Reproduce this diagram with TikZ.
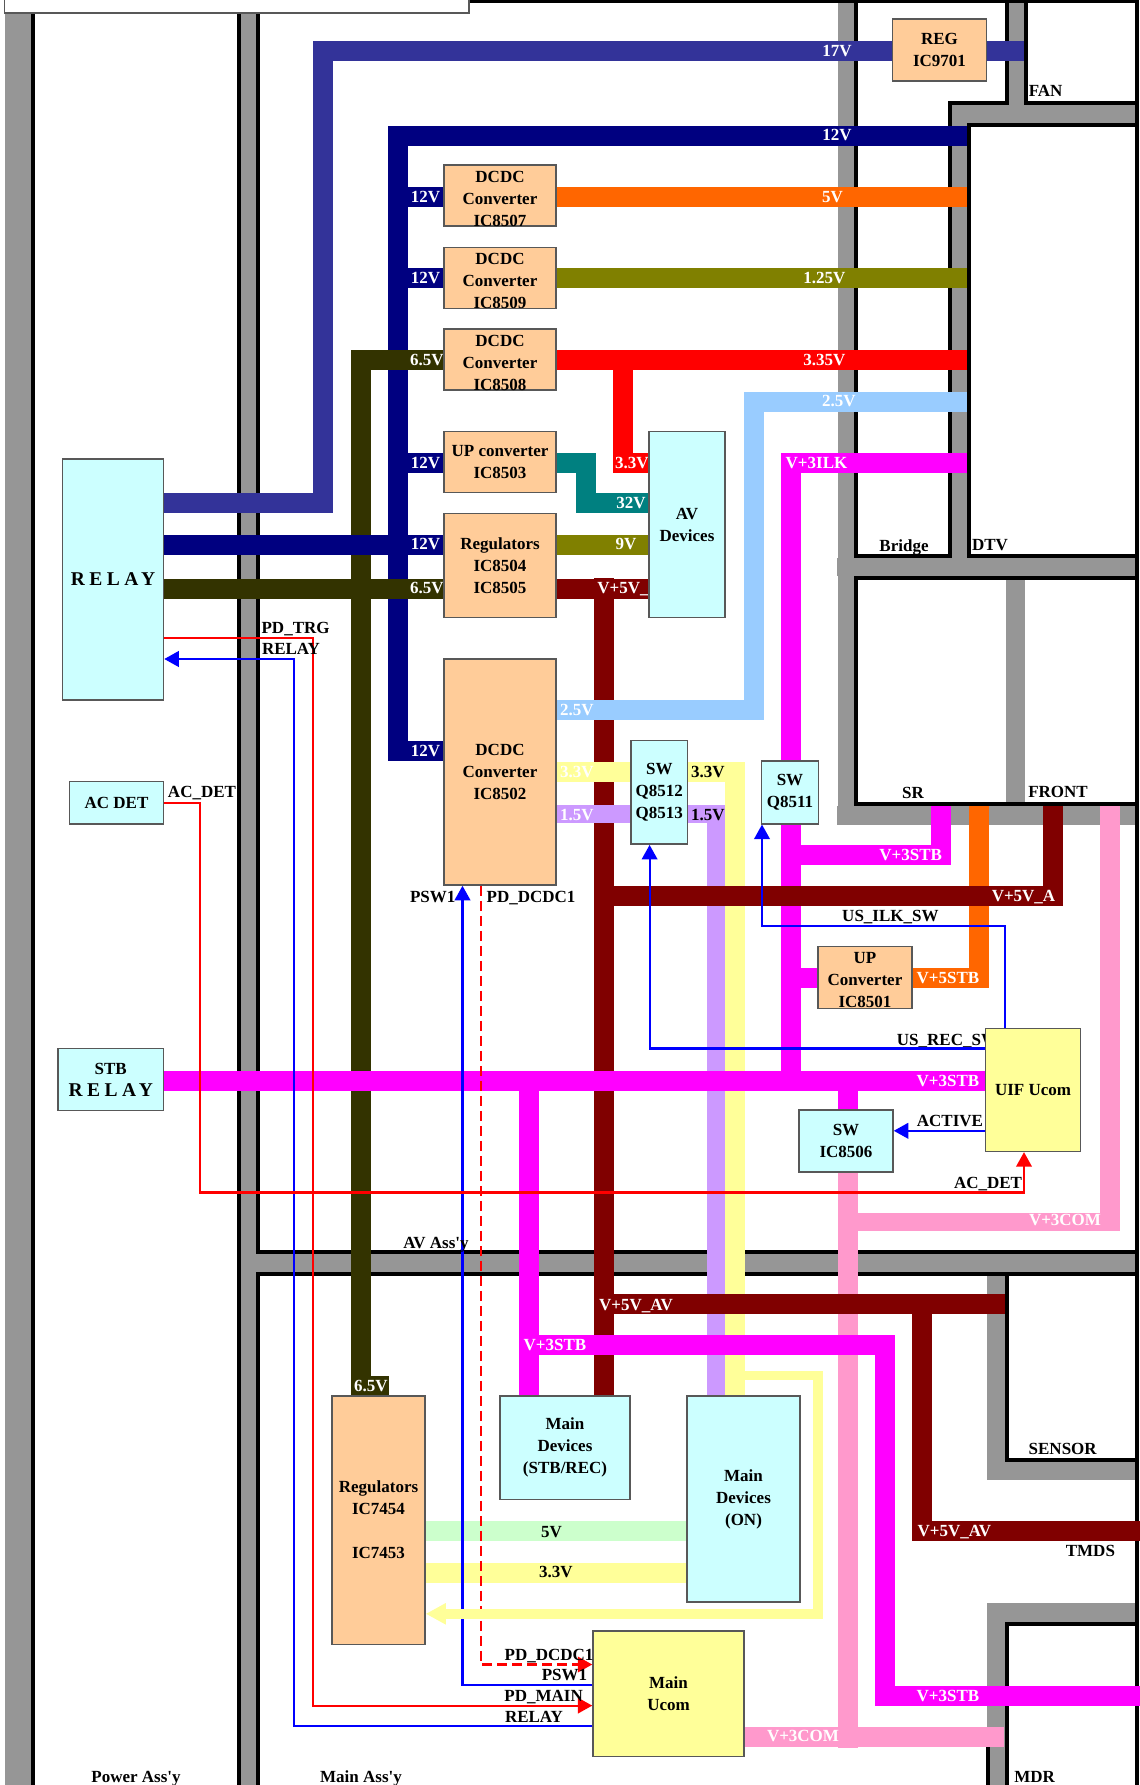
\documentclass[tikz,border=0pt]{standalone}
\usepackage{fontspec}
\usepackage{tikz}
\usetikzlibrary{arrows.meta}
\newfontfamily\diagfont{Liberation Serif}
\newfontfamily\spacedfont[LetterSpace=23]{Liberation Serif}
\newcommand{\lblfont}{\diagfont\fontsize{17}{22}\selectfont\bfseries}
\newcommand{\relayfont}{\spacedfont\fontsize{19.5}{22}\selectfont\bfseries}
\definecolor{wallgray}{HTML}{969696}
\definecolor{busA}{HTML}{333399}
\definecolor{busB}{HTML}{000080}
\definecolor{busC}{HTML}{333300}
\definecolor{busD}{HTML}{FF6600}
\definecolor{busE}{HTML}{808000}
\definecolor{busF}{HTML}{FF0000}
\definecolor{busG}{HTML}{99CCFF}
\definecolor{busH}{HTML}{FF00FF}
\definecolor{busI}{HTML}{008080}
\definecolor{busJ}{HTML}{800000}
\definecolor{busK}{HTML}{FFFF99}
\definecolor{busL}{HTML}{CC99FF}
\definecolor{busM}{HTML}{FF99CC}
\definecolor{busN}{HTML}{CCFFCC}
\definecolor{peach}{HTML}{FFCC99}
\definecolor{pale}{HTML}{CCFFFF}
\definecolor{edgegray}{HTML}{585858}
\pgfdeclarelayer{busses}
\pgfsetlayers{busses,main}
\tikzset{
  wall/.style={line width=4pt,black},
  bus/.style={line width=20pt},
  sigred/.style={line width=2.2pt,red},
  sigblue/.style={line width=2.2pt,blue},
  boxsize/.style 2 args={minimum width=#1pt,minimum height=#2pt},
  unit/.style={draw=edgegray,line width=1.5pt,inner sep=0pt,align=center,font=\lblfont},
  peachbox/.style={unit,fill=peach},
  palebox/.style={unit,fill=pale},
  ylwbox/.style={unit,fill=busK},
  boxtext/.style={inner sep=0pt,align=center,font=\lblfont},
  tag/.style={inner sep=0pt,text height=11.5pt,text depth=0pt,font=\lblfont},
  wtag/.style={tag,white}
}
\begin{document}
\begin{tikzpicture}[>={Triangle[length=14.5pt,width=15.5pt]},x=1pt,y=-1pt]
  \useasboundingbox (0,0) rectangle (1140,1785);
  % Units on the left and in the AV panel
  \node[palebox,boxsize={101}{241}] (relay) at (113,579.5) {{\relayfont RELAY}};
  \node[palebox,boxsize={94}{42.5}] (acdet) at (116.5,802.6) {AC DET};
  \node[palebox,boxsize={105.5}{62}] (stbrelay) at (110.75,1079.5) {STB\\{\relayfont RELAY}};
  \node[peachbox,boxsize={94}{62}] (regfan) at (939.5,50.1) {REG\\IC9701};
  \foreach \nm/\yc/\ic in {dcdcA/195.7/IC8507,dcdcB/277.8/IC8509,dcdcC/359.4/IC8508}{
    \node[peachbox,boxsize={112}{61}] (\nm) at (500,\yc) {};
    \node[boxtext] (\nm text) at (500,\yc+3.5) {DCDC\\Converter\\\ic};
  }
  \node[peachbox,boxsize={112}{61}] (upav) at (500,462) {UP converter\\IC8503};
  \node[peachbox,boxsize={112}{104}] (regav) at (500,565.5) {Regulators\\IC8504\\IC8505};
  \node[peachbox,boxsize={112}{226}] (dcdcmain) at (500,772) {DCDC\\Converter\\IC8502};
  \node[palebox,boxsize={76}{186}] (avdev) at (687,524.5) {AV\\Devices};
  \node[palebox,boxsize={56.6}{103.7}] (swrec) at (659.3,792.3) {SW\\Q8512\\Q8513};
  \node[palebox,boxsize={57}{63}] (swilk) at (790,792.3) {SW\\Q8511};
  \node[peachbox,boxsize={94}{62}] (upstb) at (865,977.3) {};
  \node[boxtext] (upstbtext) at (865,980.4) {UP\\Converter\\IC8501};
  \node[palebox,boxsize={94}{62}] (swcom) at (846,1141) {SW\\IC8506};
  \node[ylwbox,boxsize={95}{122.8}] (uif) at (1033,1090) {UIF Ucom};
  % Units in the main panel
  \node[peachbox,boxsize={93}{248.5}] (regmain) at (378.5,1520) {Regulators\\IC7454\\[22pt]IC7453};
  \node[palebox,boxsize={130}{103.7}] (devstb) at (565,1447.8) {Main\\Devices\\(STB/REC)};
  \node[palebox,boxsize={113}{206.3}] (devon) at (743.5,1499) {Main\\Devices\\(ON)};
  \node[ylwbox,boxsize={151}{125.3}] (ucom) at (668.5,1693.6) {Main\\Ucom};

  \begin{pgfonlayer}{busses}
    % Grey walls between the assemblies
    \fill[wallgray] (5,0) rectangle (31,1785);
    \fill[wallgray] (241,0) rectangle (256,1785);
    \fill[wallgray] (838,0) rectangle (854,824.6);
    \fill[wallgray] (256,1254) rectangle (1136,1272);
    \fill[wallgray] (837,558) rectangle (1136,576);
    \fill[wallgray] (837,806) rectangle (1136,824.6);
    \fill[wallgray] (1006,580) rectangle (1025,802);
    \fill[wallgray] (1008.5,0) rectangle (1023.5,105);
    \fill[wallgray] (952,105) rectangle (1136,123);
    \fill[wallgray] (952,105) rectangle (967,558);
    \fill[wallgray] (987,1276) rectangle (1005,1479.5);
    \fill[wallgray] (987,1461) rectangle (1136,1479.5);
    \fill[wallgray] (987,1603) rectangle (1136,1622);
    \fill[wallgray] (987,1603) rectangle (1005,1785);
    % Black outlines of the boards
    \draw[wall] (33,0) -- (33,1785);
    \draw[wall] (239,0) -- (239,1785);
    \draw[wall] (258,0) -- (258,1252) -- (1139,1252);
    \draw[wall] (1139,1274) -- (258,1274) -- (258,1785);
    \draw[wall] (469,1) -- (1137,1) -- (1137,1785);
    \draw[wall] (856,0) -- (856,556) -- (952,556);
    \draw[wall] (1137,804) -- (856,804) -- (856,578) -- (1137,578);
    \draw[wall] (1006.5,0) -- (1006.5,103) -- (950,103) -- (950,558);
    \draw[wall] (1025.5,0) -- (1025.5,103) -- (1137,103);
    \draw[wall] (1137,125) -- (969,125) -- (969,556) -- (1137,556);
    \draw[wall] (1006.5,1274) -- (1006.5,1459.5) -- (1137,1459.5);
    \draw[wall] (1006.5,1785) -- (1006.5,1624) -- (1137,1624);
    \draw[wall] (988,1747) -- (988,1785);
    \filldraw[fill=white,draw=edgegray,line width=1.5pt] (4.5,-3) rectangle (469,13);

    % 17V and 12V feeds
    \draw[bus,busA] (relay.east |- 0,503.4) -- (322.5,503.4) -- (322.5,51.5) -- (regfan.west |- 0,51.5);
    \draw[bus,busA] (regfan.east |- 0,51.5) -- (1023.5,51.5);
    \draw[bus,busB] (967,135.7) -- (397.5,135.7) -- (397.5,751.3) -- (dcdcmain.west |- 0,751.3);
    \foreach \yy/\nm in {196.5/dcdcA,278/dcdcB,463/upav}{
      \draw[bus,busB] (397.5,\yy) -- (\nm.west |- 0,\yy);
    }
    % 6.5V feed
    \draw[bus,busC] (dcdcC.west |- 0,360.2) -- (360.5,360.2) -- (360.5,1396);
    \draw[bus,busC] (351,1386) -- (389,1386);
    \draw[bus,busC] (relay.east |- 0,588.7) -- (regav.west |- 0,588.7);
    \draw[bus,busB] (relay.east |- 0,545) -- (regav.west |- 0,545);
    % Outputs towards DTV and the AV devices
    \draw[bus,busJ] (603.5,578) -- (603.5,1396);
    \draw[bus,busJ] (regav.east |- 0,588.7) -- (avdev.west |- 0,588.7);
    \draw[bus,busD] (dcdcA.east |- 0,196.5) -- (967,196.5);
    \draw[bus,busE] (dcdcB.east |- 0,278) -- (967,278);
    \draw[bus,busF] (dcdcC.east |- 0,360.2) -- (967,360.2);
    \draw[bus,busF] (622.5,360.2) -- (622.5,463) -- (avdev.west |- 0,463);
    \draw[bus,busI] (upav.east |- 0,463) -- (585.5,463) -- (585.5,503.4) -- (avdev.west |- 0,503.4);
    \draw[bus,busE] (regav.east |- 0,545) -- (avdev.west |- 0,545);
    \draw[bus,busG] (dcdcmain.east |- 0,710.2) -- (753.5,710.2) -- (753.5,401.6) -- (967,401.6);
    % 1.5V and 3.3V through the switch
    \draw[line width=18pt,busL] (dcdcmain.east |- 0,814.3) -- (716,814.3) -- (716,1396);
    \draw[bus,busK] (dcdcmain.east |- 0,772.4) -- (734.5,772.4) -- (734.5,1396);
    % V+3COM
    \draw[bus,busM] (1109.5,806) -- (1109.5,1231);
    \draw[line width=18pt,busM] (857,1222) -- (1119,1222);
    \draw[bus,busM] (847.5,1172) -- (847.5,1747.5);
    \draw[bus,busM] (ucom.east |- 0,1737.4) -- (1004,1737.4);
    % V+5STB
    \draw[bus,busD] (upstb.east |- 0,978.4) -- (979,978.4) -- (979,806);
    % Magenta standby rails
    \draw[bus,busH] (967,463) -- (790.5,463) -- (790.5,1071);
    \draw[bus,busH] (800,855.4) -- (940.5,855.4) -- (940.5,806);
    \draw[bus,busH] (800,978.4) -- (upstb.west |- 0,978.4);
    \draw[bus,busH] (stbrelay.east |- 0,1080.5) -- (uif.west |- 0,1080.5);
    \draw[bus,busH] (847.5,1080) -- (swcom.north -| 847.5,0);
    \draw[bus,busH] (528.5,1080) -- (528.5,1396);
    \draw[bus,busH] (519,1345.3) -- (884.5,1345.3) -- (884.5,1696.3) -- (1140,1696.3);
    % V+5V rails on top
    \draw[bus,busJ] (603.5,896.2) -- (1052.5,896.2) -- (1052.5,806);
    \draw[bus,busJ] (594,1304.2) -- (1004.5,1304.2);
    \draw[bus,busJ] (921.5,1304) -- (921.5,1531.4) -- (1140,1531.4);
    % Feeds in the main panel
    \draw[bus,busN] (regmain.east |- 0,1531.4) -- (devon.west |- 0,1531.4);
    \draw[bus,busK] (regmain.east |- 0,1572.6) -- (devon.west |- 0,1572.6);

    % Voltage names on the rails
    \foreach \xx/\yy/\txt [count=\i] in {837/51/17V,837/135/12V,832.5/196.3/5V,824.5/278.2/1.25V,
      824.5/360/3.35V,839/401/2.5V,816.5/462.3/V+3ILK,632/462.3/3.3V,631/503/32V,626/544/9V,
      623/587.4/V+5V\_,425.5/196.3/12V,425.5/278.2/12V,425.5/462.3/12V,425.5/544.2/12V,427/360/6.5V,
      427/587.4/6.5V,425.5/751.2/12V,577/710.2/2.5V,577/772.2/3.3V,577/814.3/1.5V,
      910.7/855.2/V+3STB,1023.5/895.8/V+5V\_A,948/978/V+5STB,948/1080.3/V+3STB,1065/1220/V+3COM,
      636/1304.5/V+5V\_AV,555/1344.8/V+3STB,371/1385.8/6.5V,954.4/1531/V+5V\_AV,948/1696.2/V+3STB,
      803/1736.2/V+3COM}{
      \node[wtag] (rail\i) at (\xx,\yy) {\txt};
    }
    \node[tag] (usrec) at (947.5,1039.3) {US\_REC\_SW};
  \end{pgfonlayer}

  % Control lines
  \draw[sigred,->] (relay.east |- 0,638.3) -- (312.7,638.3) -- (312.7,1705.6) -- (ucom.west |- 0,1705.6);
  \draw[sigblue,->] (ucom.west |- 0,1726) -- (293.8,1726) -- (293.8,659) -- (relay.east |- 0,659);
  \draw[sigblue,->] (ucom.west |- 0,1685) -- (462.5,1685) -- (dcdcmain.south -| 462.5,0);
  \draw[sigred,dash pattern=on 10pt off 5pt,->] (dcdcmain.south -| 481,0) -- (481,1664.5) -- (ucom.west |- 0,1664.5);
  \draw[sigred,->] (acdet.east |- 0,803.2) -- (200,803.2) -- (200,1192.4) -- (1024,1192.4) -- (uif.south -| 1024,0);
  \draw[sigblue,->] (uif.west |- 0,1048.5) -- (649.6,1048.5) -- (swrec.south -| 649.6,0);
  \draw[sigblue,->] (uif.north -| 1005,0) -- (1005,926) -- (762,926) -- (swilk.south -| 762,0);
  \draw[sigblue,->] (uif.west |- 0,1130.8) -- (swcom.east |- 0,1130.8);
  \draw[line width=9.5pt,busK,-{Triangle[length=20pt,width=20pt]}] (734.5,1375.5) -- (818,1375.5) -- (818,1613.8) -- (regmain.east |- 0,1613.8);

  % Names of boards and signals
  \foreach \xx/\yy/\txt [count=\i] in {1045.6/91/FAN,904/545.3/Bridge,990/545/DTV,202/792/AC\_DET,
    708/772.2/3.3V,708/814.3/1.5V,913/793.2/SR,1058/792.1/FRONT,890.4/916/US\_ILK\_SW,950/1121.2/ACTIVE,
    988/1182.4/AC\_DET,436/1242.5/AV Ass'y,551.6/1531.3/5V,556/1572/3.3V,1090.4/1551/TMDS,
    1062.7/1449.2/SENSOR,1034.7/1776.4/MDR,136/1776.4/Power Ass'y,361/1776.4/Main Ass'y,295.6/628/PD\_TRG,
    291/649/RELAY,432.7/896.6/PSW1,531/896.6/PD\_DCDC1,549/1655.2/PD\_DCDC1,564.5/1675/PSW1,
    543.6/1696/PD\_MAIN,534/1716.4/RELAY}{
    \node[tag] (name\i) at (\xx,\yy) {\txt};
  }
\end{tikzpicture}
\end{document}
